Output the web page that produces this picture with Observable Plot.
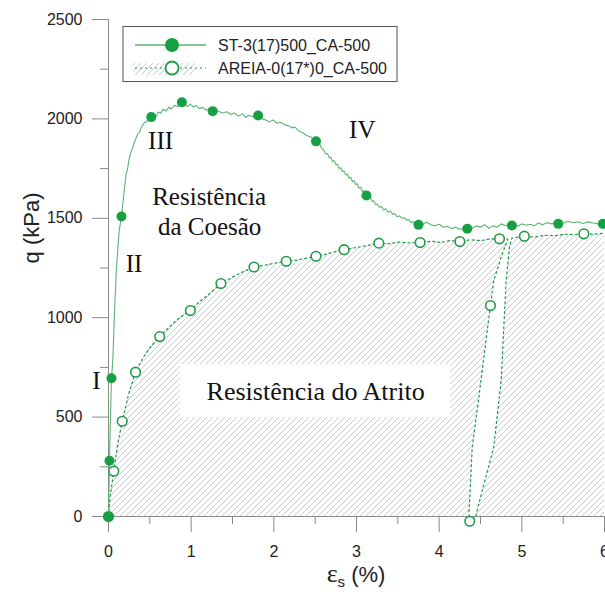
<!DOCTYPE html>
<html><head><meta charset="utf-8">
<script src="https://cdn.jsdelivr.net/npm/d3@7"></script>
<script src="https://cdn.jsdelivr.net/npm/@observablehq/plot@0.6"></script>
<style>body{margin:0;background:#fff} svg{display:block}</style>
</head><body><div id="chart"></div>
<script>
const xTicks = [0, 1, 2, 3, 4, 5, 6];
const xMinor = [0.5, 1.5, 2.5, 3.5, 4.5, 5.5];
const yTicks = [0, 500, 1000, 1500, 2000, 2500];
const yMinor = [250, 750, 1250, 1750, 2250];
const seriesNames = ["ST-3(17)500_CA-500", "AREIA-0(17*)0_CA-500"];

// ST-3 curve (noisy line) and its markers
const stLineX = [0,0.006,0.012,0.02,0.028,0.036,0.052,0.07,0.093,0.115,0.13,0.157,0.19,0.214,0.23,0.245,0.275,0.29,0.31,0.355,0.37,0.40,0.436,0.46,0.48,0.517,0.55,0.58,0.60,0.63,0.66,0.70,0.73,0.76,0.80,0.84,0.888,0.92,0.96,0.99,1.02,1.06,1.10,1.14,1.18,1.22,1.26,1.32,1.38,1.43,1.48,1.52,1.57,1.62,1.66,1.70,1.75,1.81,1.86,1.90,1.95,1.99,2.04,2.08,2.13,2.18,2.22,2.26,2.30,2.35,2.39,2.44,2.48,2.51,2.54,2.56,2.58,2.60,2.63,2.65,2.67,2.69,2.71,2.73,2.75,2.77,2.79,2.81,2.83,2.85,2.87,2.89,2.91,2.93,2.95,2.97,2.99,3.01,3.03,3.05,3.07,3.09,3.12,3.15,3.17,3.19,3.21,3.23,3.25,3.28,3.30,3.33,3.35,3.38,3.41,3.44,3.46,3.49,3.52,3.55,3.58,3.61,3.63,3.66,3.68,3.71,3.75,3.80,3.85,3.90,3.95,4.00,4.05,4.10,4.15,4.20,4.25,4.30,4.34,4.40,4.45,4.50,4.55,4.60,4.65,4.70,4.75,4.80,4.88,4.95,5.00,5.05,5.10,5.15,5.20,5.25,5.30,5.36,5.44,5.50,5.56,5.62,5.68,5.74,5.80,5.86,5.92,5.98,6.0];
const stLineQ = [0,140,280,430,560,695,785,1000,1222,1360,1439,1509,1640,1724,1745,1790,1841,1850,1880,1925,1930,1960,1983,1985,2000,2009,2025,2015,2035,2028,2048,2040,2060,2050,2068,2062,2084,2070,2062,2075,2060,2068,2052,2058,2045,2050,2039,2040,2030,2036,2022,2030,2015,2025,2008,2018,2010,2017,2000,1995,1985,1995,1978,1983,1970,1965,1955,1958,1940,1930,1918,1910,1898,1887,1872,1870,1850,1846,1822,1826,1805,1808,1786,1790,1770,1772,1750,1754,1735,1738,1718,1722,1702,1706,1685,1690,1670,1674,1652,1656,1635,1638,1615,1600,1603,1585,1588,1570,1572,1555,1560,1542,1548,1532,1536,1520,1524,1508,1512,1500,1503,1490,1494,1478,1483,1467,1478,1470,1480,1468,1462,1470,1455,1460,1448,1455,1445,1447,1458,1450,1462,1455,1468,1450,1462,1455,1472,1464,1470,1460,1472,1465,1470,1462,1476,1468,1478,1472,1480,1475,1485,1478,1483,1474,1482,1476,1472,1470];
const stMarkX = [0,0.012,0.036,0.157,0.517,0.888,1.26,1.81,2.51,3.12,3.75,4.34,4.88,5.44,5.98];
const stMarkQ = [0,280,695,1509,2009,2084,2039,2017,1887,1615,1467,1447,1464,1472,1472];

// AREIA curve: loading envelope, unload/reload loop, markers
const areiaX = [0,0.02,0.064,0.11,0.166,0.24,0.327,0.42,0.52,0.62,0.75,0.86,0.99,1.10,1.22,1.36,1.48,1.62,1.76,1.90,2.02,2.15,2.28,2.40,2.51,2.62,2.74,2.85,2.98,3.12,3.27,3.40,3.52,3.65,3.77,3.90,4.02,4.13,4.25,4.38,4.50,4.62,4.73,4.83,4.88,4.95,5.03,5.15,5.28,5.40,5.52,5.63,5.75,5.88,6.0];
const areiaQ = [0,100,228,360,479,610,726,800,860,905,960,1000,1036,1080,1120,1172,1200,1230,1255,1265,1275,1284,1290,1300,1309,1318,1332,1342,1352,1362,1375,1372,1380,1376,1378,1385,1378,1388,1383,1392,1388,1396,1397,1395,1400,1405,1410,1405,1415,1412,1420,1418,1422,1420,1425];
const loopX = [4.83,4.75,4.66,4.62,4.48,4.40,4.36,4.37,4.44,4.50,4.66,4.75,4.81,4.85,4.88];
const loopQ = [1395,1305,1187,1061,600,349,15,-24,-3,97,349,684,1187,1355,1400];
const areiaMarkX = [0,0.064,0.166,0.327,0.62,0.99,1.36,1.76,2.15,2.51,2.85,3.27,3.77,4.25,4.73,5.03,5.75,4.62,4.37];
const areiaMarkQ = [0,228,479,726,905,1036,1172,1255,1284,1309,1342,1375,1378,1383,1397,1410,1422,1061,-24];

// annotations
const annotText = ["I","II","III","IV","Resistência","da Coesão","Resistência do Atrito"];
const annotX = [-0.145,0.309,0.63,3.07,1.217,1.223,2.506];
const annotQ = [684,1268,1891,1942,1605,1454,629];
const annotSize = [25,25,25,25,25,25,26];
const boxX = [0.872, 4.14];
const boxQ = [498, 765];

const GREEN = "#17a043";
const LINE_GREEN = "#5bb574";
const OPEN_GREEN = "#1f9a48";

const pts = (xs, qs) => xs.map((x, i) => ({x, q: qs[i]}));
const stLine = pts(stLineX, stLineQ);
const stMarks = pts(stMarkX, stMarkQ);
const areiaEnv = pts(areiaX, areiaQ);
const loop = pts(loopX, loopQ);
const split = areiaX.indexOf(4.83);
const areiaFull = [...areiaEnv.slice(0, split), ...loop, ...areiaEnv.slice(split + 2)];
const areiaMarks = pts(areiaMarkX, areiaMarkQ);
const annots = annotText.map((t, i) => ({t, x: annotX[i], q: annotQ[i], s: annotSize[i]}));

const plot = Plot.plot({
  width: 605, height: 596,
  marginTop: 19, marginBottom: 80, marginLeft: 108, marginRight: 1,
  x: {domain: [0, 6]},
  y: {domain: [0, 2500]},
  style: {fontFamily: "'Liberation Sans', Arial, sans-serif", fontSize: "16px", color: "#222", background: "white"},
  marks: [
    Plot.areaY(areiaEnv, {x: "x", y: "q", fill: "url(#hatch)"}),
    Plot.line(loop, {x: "x", y: "q", fill: "white", stroke: "none", curve: "linear"}),
    Plot.rect([0], {x1: boxX[0], x2: boxX[1], y1: boxQ[0], y2: boxQ[1], fill: "white"}),
    Plot.line(areiaFull, {x: "x", y: "q", stroke: OPEN_GREEN, strokeWidth: 1.2, strokeDasharray: "2,3"}),
    Plot.ruleX([0], {stroke: "#8a8a8a"}),
    Plot.ruleY([0], {stroke: "#8a8a8a"}),
    Plot.axisX(xTicks, {tickSize: 16, tickPadding: 13, stroke: "#8a8a8a", fill: "#222", label: null, fontSize: 16, tickFormat: (d) => String(d)}),
    Plot.axisX(xMinor, {tickSize: 8, tickFormat: () => "", stroke: "#8a8a8a", label: null}),
    Plot.axisY(yTicks, {tickSize: 16, tickPadding: 10, stroke: "#8a8a8a", fill: "#222", label: null, fontSize: 16, tickFormat: (d) => String(d)}),
    Plot.axisY(yMinor, {tickSize: 8, tickFormat: () => "", stroke: "#8a8a8a", label: null}),
    Plot.dot(areiaMarks, {x: "x", y: "q", r: 4.8, fill: "white", stroke: OPEN_GREEN, strokeWidth: 1.6}),
    Plot.line(stLine, {x: "x", y: "q", stroke: LINE_GREEN, strokeWidth: 1.1}),
    Plot.dot(stMarks, {x: "x", y: "q", r: 5, fill: GREEN, stroke: "none"}),
    Plot.text(annots, {x: "x", y: "q", text: "t", fontSize: (d) => d.s, fontFamily: "'Liberation Serif', 'Times New Roman', serif", fill: "#111"})
  ]
});

const svg = d3.select(plot);
const defs = svg.insert("defs", ":first-child");
const pat = defs.append("pattern").attr("id", "hatch").attr("patternUnits", "userSpaceOnUse").attr("width", 6).attr("height", 6);
pat.append("path").attr("d", "M0,6 L6,0 M-1,1 L1,-1 M5,7 L7,5").attr("stroke", "#cdcdcd").attr("stroke-width", 1);

// axis titles
svg.append("text").attr("transform", "translate(31,228) rotate(-90)")
  .attr("text-anchor", "middle").attr("dominant-baseline", "central")
  .attr("font-family", "'Liberation Sans', Arial, sans-serif").attr("font-size", 22).attr("fill", "#222").text("q (kPa)");
const xl = svg.append("text").attr("x", 356).attr("y", 582).attr("text-anchor", "middle").attr("fill", "#222")
  .attr("font-family", "'Liberation Sans', Arial, sans-serif").attr("font-size", 22);
xl.append("tspan").attr("font-family", "'Liberation Serif', serif").attr("font-size", 26).text("ε");
xl.append("tspan").attr("font-size", 15).attr("dy", 5).text("s");
xl.append("tspan").attr("dy", -5).text(" (%)");

// legend
const lg = svg.append("g");
lg.append("rect").attr("x", 123).attr("y", 26.5).attr("width", 274).attr("height", 55).attr("fill", "white").attr("stroke", "#555");
lg.append("line").attr("x1", 135).attr("x2", 206).attr("y1", 45).attr("y2", 45).attr("stroke", LINE_GREEN).attr("stroke-width", 1.3);
lg.append("circle").attr("cx", 172).attr("cy", 45).attr("r", 7).attr("fill", GREEN);
lg.append("rect").attr("x", 133).attr("y", 63).attr("width", 62).attr("height", 12).attr("fill", "url(#hatch)");
lg.append("line").attr("x1", 135).attr("x2", 206).attr("y1", 68).attr("y2", 68).attr("stroke", OPEN_GREEN).attr("stroke-width", 1.2).attr("stroke-dasharray", "2,3");
lg.append("circle").attr("cx", 172).attr("cy", 68).attr("r", 6.5).attr("fill", "white").attr("stroke", OPEN_GREEN).attr("stroke-width", 1.8);
seriesNames.forEach((n, i) => {
  lg.append("text").attr("x", 218).attr("y", i ? 68 : 45).attr("dominant-baseline", "central").attr("text-anchor", "start")
    .attr("font-family", "'Liberation Sans', Arial, sans-serif").attr("font-size", 16).attr("fill", "#222").text(n);
});

document.getElementById("chart").appendChild(plot);
</script>
</body></html>
